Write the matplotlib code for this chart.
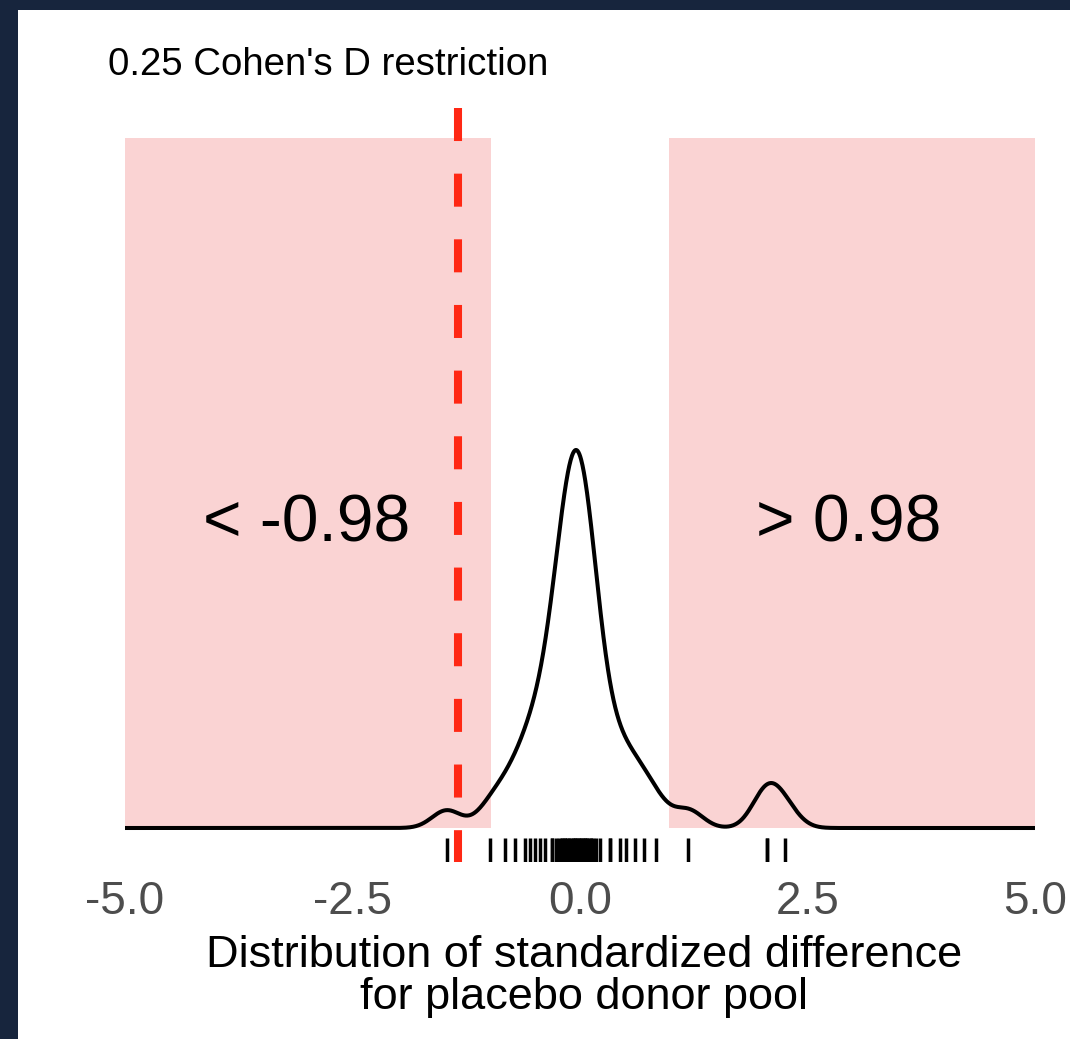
import numpy as np
import matplotlib.pyplot as plt
import matplotlib.transforms as mtransforms
from matplotlib.patches import Rectangle

plt.rcParams['font.family'] = ['Liberation Sans', 'DejaVu Sans']

# standardized differences of the placebo donor pool (rug positions, some overlap)
placebo_diff = [-1.465, -0.99, -0.82, -0.71, -0.60, -0.55, -0.50, -0.44, -0.385, -0.31, -0.31,
                -0.26, -0.23, -0.20, -0.20, -0.17, -0.16, -0.14, -0.12, -0.11, -0.08, -0.08,
                -0.05, -0.04, -0.03, -0.01, 0.0, 0.01, 0.03, 0.04,
                0.05, 0.08, 0.08, 0.11, 0.12, 0.14, 0.18,
                0.22, 0.33, 0.33, 0.44, 0.51, 0.60, 0.70, 0.84, 1.19,
                2.05, 2.05, 2.25]
treated_diff = -1.34          # red dashed line
threshold = 0.98              # shaded regions beyond +/- threshold
x_range = (-5.0, 5.0)
bandwidth = 0.16
tick_values = [-5.0, -2.5, 0.0, 2.5, 5.0]
tick_labels = ['-5.0', '-2.5', '0.0', '2.5', '5.0']

title = "0.25 Cohen's D restriction"
xlabel_lines = ["Distribution of standardized difference", "for placebo donor pool"]

# kernel density estimate (gaussian kernel)
data = np.array(placebo_diff)
grid = np.linspace(x_range[0], x_range[1], 2000)
dens = np.exp(-0.5 * ((grid[:, None] - data[None, :]) / bandwidth) ** 2).sum(axis=1)
dens = dens / (len(data) * bandwidth * np.sqrt(2 * np.pi))

#------------------------------------------------------------------------
W, H = 1070, 1039
fig = plt.figure(figsize=(W / 100, H / 100), dpi=100, facecolor='#17253d')
fig.patches.append(Rectangle((18 / W, 0), 1 - 18 / W, 1 - 10 / H, transform=fig.transFigure,
                             facecolor='white', edgecolor='none', zorder=-10))

# panel (pixels): top 108, bottom 862
ax = fig.add_axes([125 / W, 1 - 862 / H, 910 / W, (862 - 108) / H])
ax.set_facecolor('none')
for s in ax.spines.values():
    s.set_visible(False)

base_frac = (862 - 828) / 754
peak_frac = (862 - 450) / 754
span = dens.max() / (peak_frac - base_frac)
ymin = -base_frac * span
ax.set_ylim(ymin, ymin + span)
ax.set_xlim(*x_range)

# shaded regions beyond the threshold
pink = '#fad3d3'
pink_top = (862 - 138) / 754
ax.axvspan(x_range[0], -threshold, ymin=base_frac, ymax=pink_top, facecolor=pink, edgecolor='none', zorder=1)
ax.axvspan(threshold, x_range[1], ymin=base_frac, ymax=pink_top, facecolor=pink, edgecolor='none', zorder=1)

# density line
ax.plot(grid, dens, color='black', lw=2.9, zorder=3, solid_capstyle='butt')

# rug
trans = mtransforms.blended_transform_factory(ax.transData, ax.transAxes)
ax.vlines(data, 0.0, 0.032, transform=trans, color='black', lw=2.5, zorder=3)

# treated line (dash pattern starts at the top)
ax.plot([treated_diff, treated_diff], [1.0, 0.0], transform=trans, color='#ff2814',
        lw=5.8, dashes=(4.1, 4.05), dash_capstyle='butt', zorder=4)

# region labels
lab_y = (862 - 542) / 754
ax.text(-3.0, lab_y, f'< -{threshold:.2f}', transform=trans, ha='center', va='baseline', fontsize=47.5, zorder=5)
ax.text(2.95, lab_y, f'> {threshold:.2f}', transform=trans, ha='center', va='baseline', fontsize=47.5, zorder=5)

ax.set_yticks([])
ax.set_xticks(tick_values)
ax.set_xticklabels(tick_labels)
ax.tick_params(axis='x', length=0, pad=13, labelsize=33, labelcolor='#4d4d4d')

fig.text(108 / W, 1 - 75 / H, title, ha='left', va='baseline', fontsize=27.6)
fig.text(584 / W, 1 - 967 / H, xlabel_lines[0], ha='center', va='baseline', fontsize=32.5)
fig.text(584 / W, 1 - 1009 / H, xlabel_lines[1], ha='center', va='baseline', fontsize=32.5)

fig.savefig('out.png', dpi=100, facecolor=fig.get_facecolor())
